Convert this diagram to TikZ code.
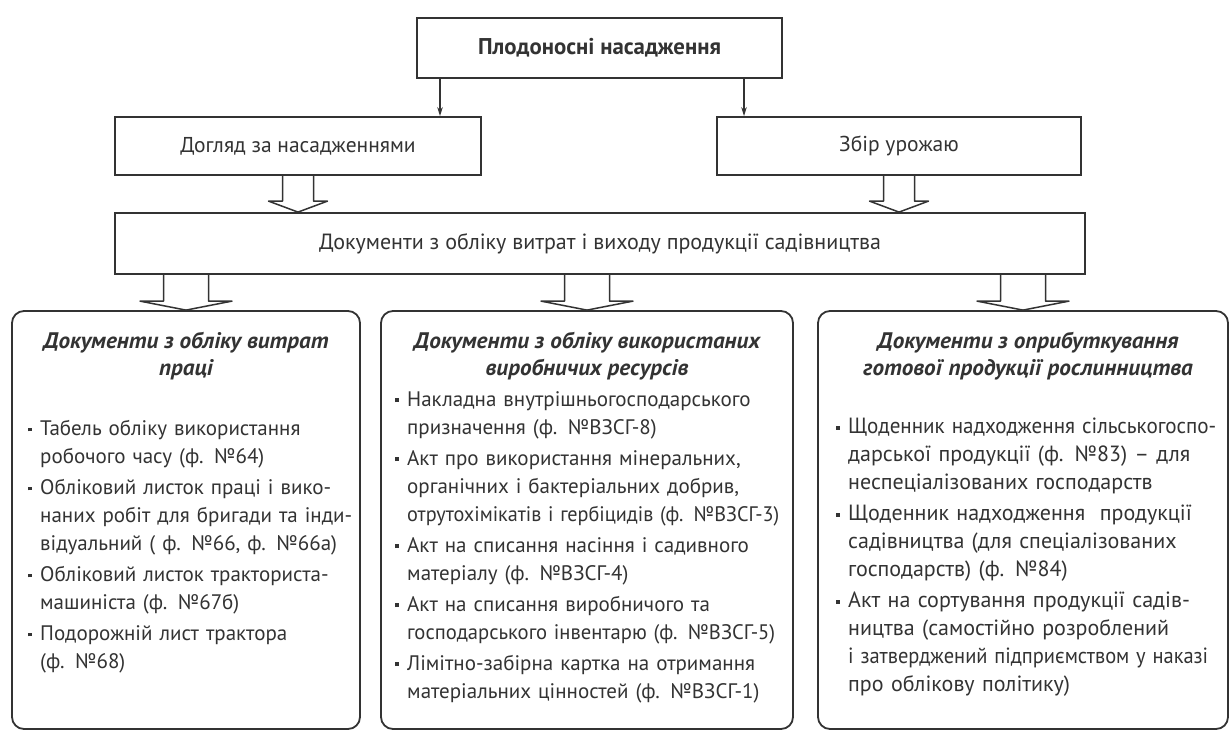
\documentclass[tikz,border=0pt]{standalone}
\usepackage{fontspec}
\usepackage{graphicx}
\setmainfont{PT Sans}
\newfontfamily\hdrfont[FakeStretch=1.03]{PT Sans}
\usetikzlibrary{arrows.meta,calc}
\newcommand{\bul}{\raisebox{4pt}{\rule{3.8pt}{3.8pt}}}
\newcommand{\itm}[1]{\hangindent=12pt\hangafter=1\noindent\makebox[12pt][l]{\bul}#1\par\vspace{3pt}}
\newcommand{\fitw}[2]{\resizebox{#1}{\height}{#2}}
\begin{document}
\begin{tikzpicture}[x=1pt,y=-1pt,
  rbox/.style={draw=black!80, line width=1.8pt, inner sep=0pt, text=black!80,
    font=\fontsize{21.5}{25}\selectfont},
  dbox/.style={draw=black!80, line width=1.8pt, rounded corners=12pt, inner sep=0pt},
  thinarr/.style={draw=black!80, line width=1.2pt, -{Stealth[length=9pt,width=5.5pt]}},
  hol/.style={draw=black!80, line width=1.5pt, line join=round},
  hdr/.style={text=black!80, align=center, inner sep=0pt,
    font=\hdrfont\fontsize{22.5}{27}\selectfont\bfseries\itshape},
  lst/.style={text=black!80, align=left, inner sep=0pt, anchor=north west, text width=480pt}]
\useasboundingbox (0,0) rectangle (1230,731);
\fill[white] (0,0) rectangle (1230,731);
\begin{scope}
\clip (0,0) rectangle (1230,731);
% top level
\node[rbox, minimum width=365pt, minimum height=60pt, font=\bfseries\fontsize{22.8}{25}\selectfont] (top) at (599.5,48) {Плодоносні насадження};
\node[rbox, minimum width=366pt, minimum height=58pt] (dog) at (298,146) {Догляд за насадженнями};
\node[rbox, minimum width=364pt, minimum height=58pt] (zbir) at (899,146) {Збір урожаю};
\node[rbox, minimum width=970pt, minimum height=61pt, font=\fontsize{22}{25}\selectfont] (wide) at (600,243.5) {Документи з обліку витрат і виходу продукції садівництва};
% thin arrows
\coordinate (a1) at (440,0);
\coordinate (a2) at (744,0);
\draw[thinarr] (a1 |- top.south) -- (a1 |- dog.north);
\draw[thinarr] (a2 |- top.south) -- (a2 |- zbir.north);
% bottom boxes
\node[dbox, minimum width=348pt, minimum height=418pt] (b1) at (186,520) {};
\node[dbox, minimum width=412pt, minimum height=418pt] (b2) at (587,520) {};
\node[dbox, minimum width=410pt, minimum height=418pt] (b3) at (1023,520) {};
% hollow arrows
\draw[hol] let \p1=(dog.south), \p2=(wide.north) in
  (\x1-15.5pt,\y1) -- (\x1-15.5pt,\y2+11pt) -- (\x1-29.5pt,\y2+11pt) -- (\x1,\y2) -- (\x1+29.5pt,\y2+11pt) -- (\x1+15.5pt,\y2+11pt) -- (\x1+15.5pt,\y1);
\draw[hol] let \p1=(zbir.south), \p2=(wide.north) in
  (\x1-15.5pt,\y1) -- (\x1-15.5pt,\y2+11pt) -- (\x1-29.5pt,\y2+11pt) -- (\x1,\y2) -- (\x1+29.5pt,\y2+11pt) -- (\x1+15.5pt,\y2+11pt) -- (\x1+15.5pt,\y1);
\foreach \b in {b1,b2,b3}{
\draw[hol] let \p1=(\b.north), \p2=(wide.south) in
  (\x1-22.5pt,\y2) -- (\x1-22.5pt,\y1+9pt) -- (\x1-46pt,\y1+9pt) -- (\x1,\y1) -- (\x1+46pt,\y1+9pt) -- (\x1+22.5pt,\y1+9pt) -- (\x1+22.5pt,\y2);
}
% headers
\node[hdr] (h1) at (186,356) {Документи з обліку витрат\\праці};
\node[hdr] (h2) at (587,356) {Документи з обліку використаних\\виробничих ресурсів};
\node[hdr] (h3) at (1028,356) {Документи з оприбуткування\\готової продукції рослинництва};
% lists
\node[lst, font=\fontsize{21}{28}\selectfont] (l1) at (28,420) {%
\itm{Табель обліку використання\newline робочого часу (ф. №64)}%
\itm{Обліковий листок праці і вико-\newline наних робіт для бригади та інди-\newline відуальний ( ф. №66, ф. №66а)}%
\itm{Обліковий листок тракториста-\newline машиніста (ф. №67б)}%
\itm{Подорожній лист трактора\newline (ф. №68)}};
\node[lst, font=\fontsize{21}{28}\selectfont] (l2) at (395,391) {%
\itm{Накладна внутрішньогосподарського\newline призначення (ф. №ВЗСГ-8)}%
\itm{Акт про використання мінеральних,\newline органічних і бактеріальних добрив,\newline \fitw{372pt}{отрутохімікатів і гербіцидів (ф. №ВЗСГ-3)}}%
\itm{Акт на списання насіння і садивного\newline матеріалу (ф. №ВЗСГ-4)}%
\itm{Акт на списання виробничого та\newline \fitw{368pt}{господарського інвентарю (ф. №ВЗСГ-5)}}%
\itm{Лімітно-забірна картка на отримання\newline матеріальних цінностей (ф. №ВЗСГ-1)}};
\node[lst, font=\fontsize{22}{28}\selectfont] (l3) at (836,418) {%
\itm{\fitw{368pt}{Щоденник надходження сільськогоспо-}\newline дарської продукції (ф. №83) – для\newline неспеціалізованих господарств}%
\itm{Щоденник надходження\ \ продукції\newline садівництва (для спеціалізованих\newline господарств) (ф. №84)}%
\itm{Акт на сортування продукції садів-\newline ництва (самостійно розроблений\newline \fitw{360pt}{і затверджений підприємством у наказі}\newline про облікову політику)}};
\end{scope}
\end{tikzpicture}
\end{document}
